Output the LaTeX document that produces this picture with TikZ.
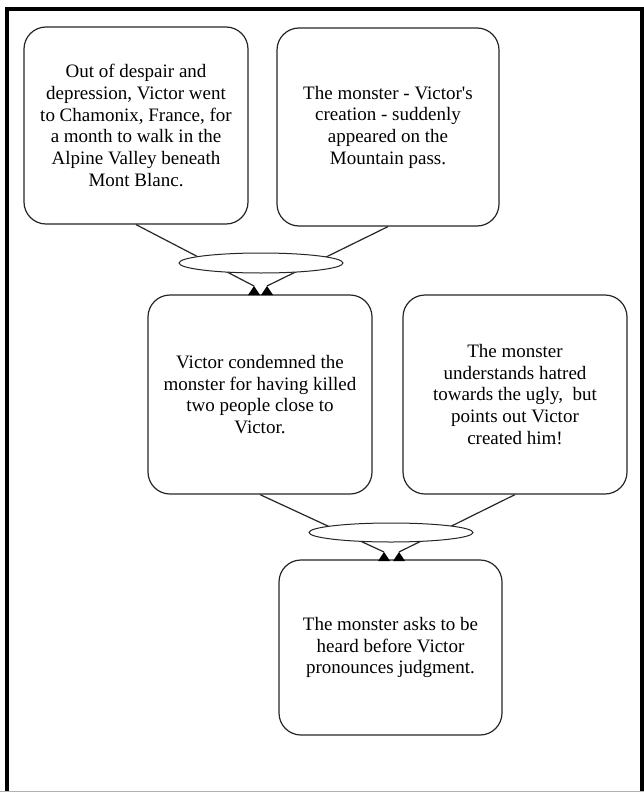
\documentclass[tikz,border=0pt]{standalone}
\usepackage{fontspec}
\setmainfont{Liberation Serif}
\usetikzlibrary{shapes.geometric}
\begin{document}
\begin{tikzpicture}[x=1pt,y=-1pt,
  eventbox/.style={draw=black!85, line width=1.2pt, rounded corners=22pt, fill=white,
    align=center, inner sep=0pt, font=\fontsize{19}{21.7}\selectfont},
  joinoval/.style={draw=black!85, line width=1pt, fill=white, shape=ellipse, inner sep=0pt},
  link/.style={draw=black!85, line width=1.2pt},
  tiptri/.style={fill=black}
]
\useasboundingbox (0,0) rectangle (644,792);
\fill[white] (0,0) rectangle (644,792);

% outer frame
\draw[line width=4pt] (7,792) -- (7,9.5) -- (641.5,9.5) -- (641.5,792);
\draw[black!30, line width=1pt] (0,791.5) -- (644,791.5);

% story boxes
\node[eventbox, minimum width=224pt, minimum height=197pt] (b1) at (136,125.5)
  {Out of despair and\\depression, Victor went\\to Chamonix, France, for\\a month to walk in the\\Alpine Valley beneath\\Mont Blanc.};
\node[eventbox, minimum width=222pt, minimum height=198pt] (b2) at (388,127)
  {The monster - Victor\textquotesingle s\\creation - suddenly\\appeared on the\\Mountain pass.};
\node[eventbox, minimum width=224pt, minimum height=199pt] (b3) at (260,394.5)
  {Victor condemned the\\monster for having killed\\two people close to\\Victor.};
\node[eventbox, minimum width=224pt, minimum height=199pt] (b4) at (515,394.5)
  {The monster\\understands hatred\\towards the ugly,\ \ but\\points out Victor\\created him!};
\node[eventbox, minimum width=223pt, minimum height=175pt] (b5) at (390.5,647.5)
  {The monster asks to be\\heard before Victor\\pronounces judgment.};

% arrow tips on the receiving boxes
\coordinate (t1) at (254,286);
\coordinate (t2) at (267,286);
\coordinate (t3) at (384,552);
\coordinate (t4) at (399,552);

% connectors, joined under an oval
\draw[link] (b1.south) -- (t1);
\draw[link] (b2.south) -- (t2);
\draw[link] (b3.south) -- (t3);
\draw[link] (b4.south) -- (t4);

\node[joinoval, minimum width=164pt, minimum height=20pt] (e1) at (261,263) {};
\node[joinoval, minimum width=164pt, minimum height=19pt] (e2) at (391,532.5) {};

\foreach \t in {t1,t2,t3,t4}
  \fill[tiptri] (\t) -- ++(-6,9) -- ++(12,0) -- cycle;
\end{tikzpicture}
\end{document}
